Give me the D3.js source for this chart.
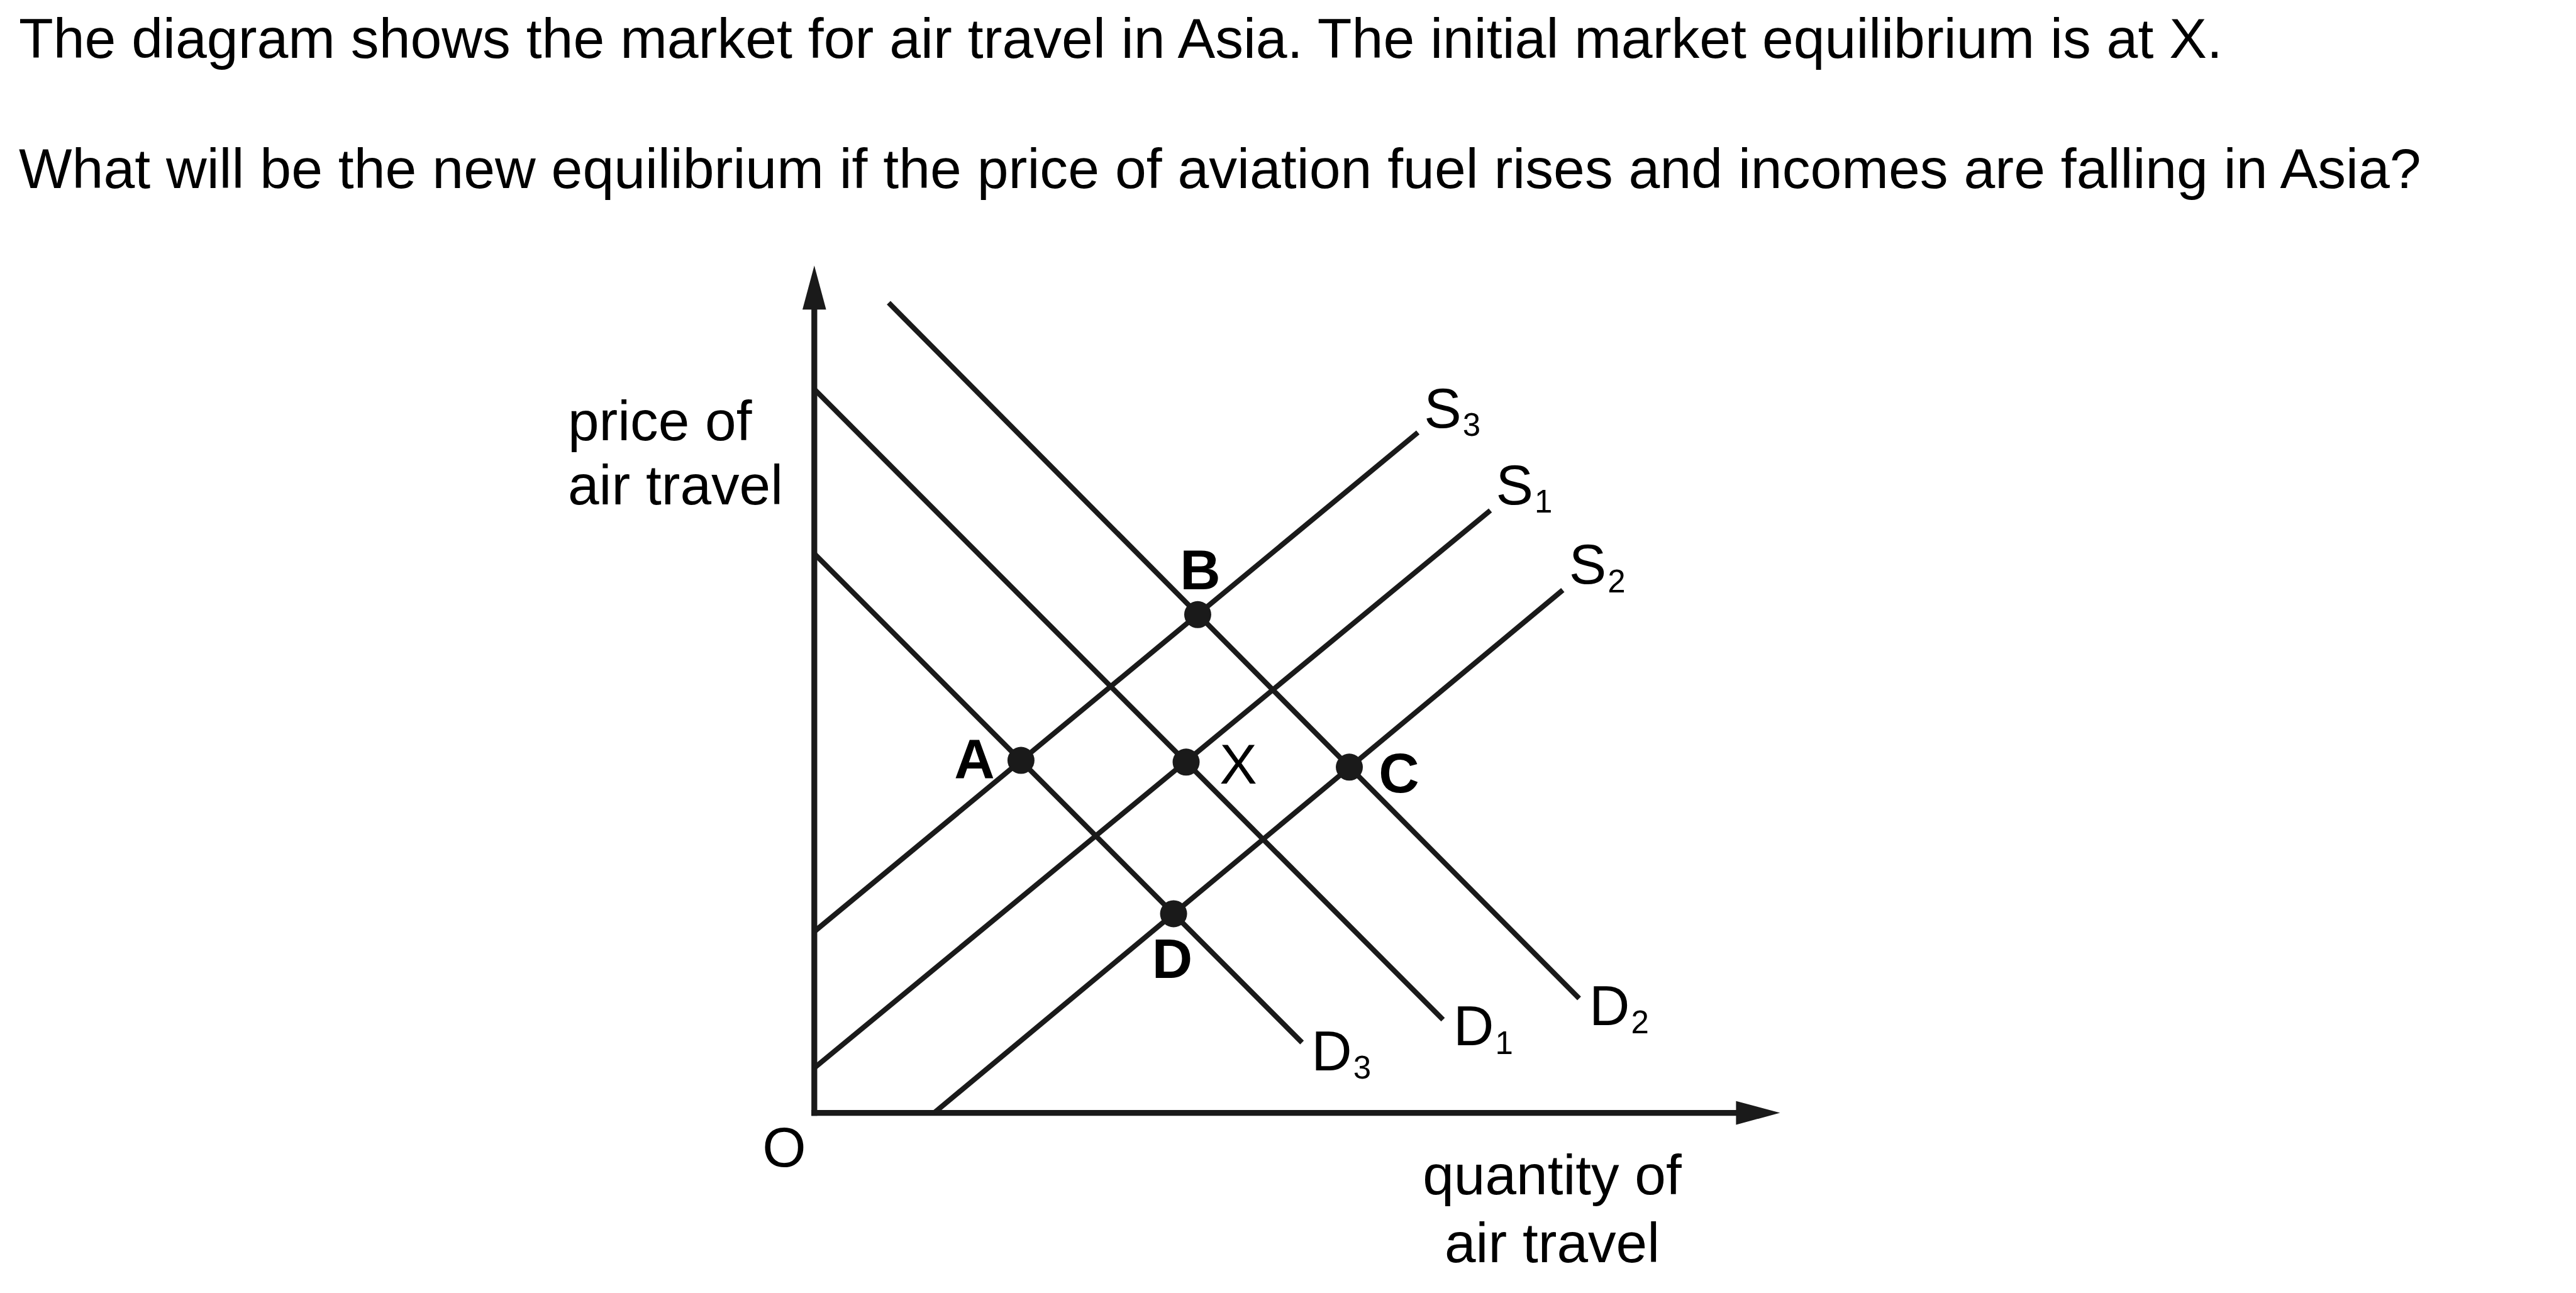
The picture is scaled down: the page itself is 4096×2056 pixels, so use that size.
<!DOCTYPE html>
<html>
<head>
<meta charset="utf-8">
<script src="https://cdn.jsdelivr.net/npm/d3@7"></script>
<style>
  html, body { margin: 0; padding: 0; background: #fff; }
  svg { display: block; }
  text { font-family: "Liberation Sans", Arial, sans-serif; fill: #000; }
</style>
</head>
<body>
<script>
// ---------------- DATA ----------------
const titleLines = [
  "The diagram shows the market for air travel in Asia. The initial market equilibrium is at X.",
  "What will be the new equilibrium if the price of aviation fuel rises and incomes are falling in Asia?"
];
const yAxisLabel = ["price of", "air travel"];
const xAxisLabel = ["quantity of", "air travel"];
const originLabel = "O";

// curves (quantity / price units, axes run 0..100)
const curveLetter = ["D", "D", "D", "S", "S", "S"];
const curveSub    = ["2", "1", "3", "3", "1", "2"];
const curveStartQ = [7.7, 0, 0, 0, 0, 12.4];
const curveStartP = [95.6, 85.4, 66.0, 21.4, 5.3, 0];
const curveEndQ   = [79.2, 65.1, 50.5, 62.5, 70.0, 77.5];
const curveEndP   = [13.5, 11.0, 8.3, 80.3, 71.1, 61.7];

// equilibrium points
const pointName = ["A", "B", "X", "C", "D"];
const pointQ    = [21.4, 39.7, 38.5, 55.4, 37.2];
const pointP    = [41.6, 58.8, 41.4, 40.8, 23.5];
const pointBold = [true, true, false, true, true];

// ---------------- LAYOUT ----------------
const W = 4096, H = 2056;
const FS = 89.2, TFS = 89.6, SUB = 51;
const ink = "#1a1a1a";

const svg = d3.select("body").append("svg")
  .attr("width", W).attr("height", H)
  .attr("viewBox", `0 0 ${W} ${H}`);

const x = d3.scaleLinear().domain([0, 100]).range([1294.8, 2830.4]);
const y = d3.scaleLinear().domain([0, 100]).range([1769.6, 422.2]);

// title
svg.selectAll("text.title").data(titleLines).enter().append("text")
  .attr("class", "title")
  .attr("x", 30)
  .attr("y", (d, i) => i === 0 ? 91.5 : 298.5)
  .attr("font-size", TFS)
  .text(d => d);

// axes
const arrowLen = 70, arrowHalf = 18.8;
const axW = 9.3;
svg.append("line")
  .attr("x1", x(0)).attr("y1", y(0) + axW / 2)
  .attr("x2", x(0)).attr("y2", y(100) + arrowLen * 0.5)
  .attr("stroke", ink).attr("stroke-width", axW);
svg.append("line")
  .attr("x1", x(0) - axW / 2).attr("y1", y(0))
  .attr("x2", x(100) - arrowLen * 0.5).attr("y2", y(0))
  .attr("stroke", ink).attr("stroke-width", axW);
svg.append("path")
  .attr("d", `M${x(0)},${y(100)} L${x(0) - arrowHalf},${y(100) + arrowLen} L${x(0) + arrowHalf},${y(100) + arrowLen} Z`)
  .attr("fill", ink);
svg.append("path")
  .attr("d", `M${x(100)},${y(0)} L${x(100) - arrowLen},${y(0) - arrowHalf} L${x(100) - arrowLen},${y(0) + arrowHalf} Z`)
  .attr("fill", ink);

// curves
const curveIdx = d3.range(curveLetter.length);
svg.selectAll("line.curve").data(curveIdx).enter().append("line")
  .attr("class", "curve")
  .attr("x1", i => x(curveStartQ[i])).attr("y1", i => y(curveStartP[i]))
  .attr("x2", i => x(curveEndQ[i])).attr("y2", i => y(curveEndP[i]))
  .attr("stroke", ink).attr("stroke-width", 8.2).attr("stroke-linecap", "butt");

// curve labels
const curveLabelOffset = {
  "D2": [16, 42], "D1": [16.5, 41], "D3": [15, 44],
  "S3": [9.8, -7.8], "S1": [8.8, -9.8], "S2": [9.8, -9.8]
};
const cl = svg.selectAll("text.clabel").data(curveIdx).enter().append("text")
  .attr("class", "clabel")
  .attr("x", i => x(curveEndQ[i]) + curveLabelOffset[curveLetter[i] + curveSub[i]][0])
  .attr("y", i => y(curveEndP[i]) + curveLabelOffset[curveLetter[i] + curveSub[i]][1])
  .attr("font-size", FS);
cl.append("tspan").text(i => curveLetter[i]);
cl.append("tspan").attr("font-size", SUB).attr("dy", 13.5).attr("dx", 2).text(i => curveSub[i]);

// points
const ptIdx = d3.range(pointName.length);
svg.selectAll("circle.pt").data(ptIdx).enter().append("circle")
  .attr("class", "pt")
  .attr("cx", i => x(pointQ[i])).attr("cy", i => y(pointP[i]))
  .attr("r", 21.5).attr("fill", ink);

const ptLabelOffset = { "A": [-74, 29], "B": [4, -40], "X": [83, 34], "C": [79, 40.5], "D": [-2, 102] };
svg.selectAll("text.plabel").data(ptIdx).enter().append("text")
  .attr("class", "plabel")
  .attr("x", i => x(pointQ[i]) + ptLabelOffset[pointName[i]][0])
  .attr("y", i => y(pointP[i]) + ptLabelOffset[pointName[i]][1])
  .attr("text-anchor", "middle")
  .attr("font-size", FS)
  .attr("font-weight", i => pointBold[i] ? "bold" : "normal")
  .text(i => pointName[i]);

// axis labels
svg.selectAll("text.ylab").data(yAxisLabel).enter().append("text")
  .attr("class", "ylab")
  .attr("x", 903)
  .attr("y", (d, i) => i === 0 ? 700 : 802)
  .attr("font-size", FS)
  .text(d => d);

svg.selectAll("text.xlab").data(xAxisLabel).enter().append("text")
  .attr("class", "xlab")
  .attr("x", 2468)
  .attr("y", (d, i) => i === 0 ? 1899 : 2007)
  .attr("text-anchor", "middle")
  .attr("font-size", FS)
  .text(d => d);

svg.append("text")
  .attr("x", 1247).attr("y", 1855)
  .attr("text-anchor", "middle")
  .attr("font-size", FS)
  .text(originLabel);
</script>
</body>
</html>
